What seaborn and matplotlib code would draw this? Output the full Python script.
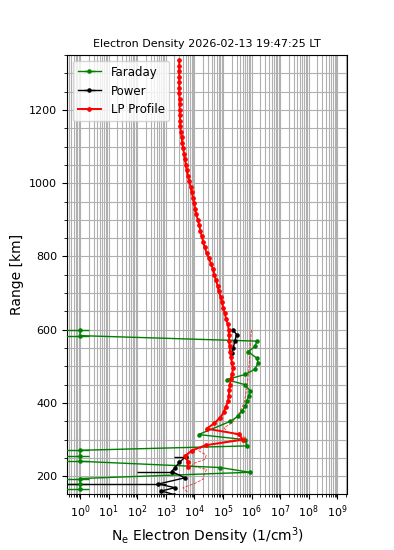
import matplotlib
matplotlib.use("Agg")
import matplotlib.pyplot as plt
import numpy as np
import pandas as pd
import seaborn as sns
from matplotlib.ticker import LogLocator, MultipleLocator

# LP profile (red), km and 1/cm^3
lp_range = [1335, 1320, 1305, 1290, 1275, 1260, 1245, 1230, 1215, 1200,
            1185, 1170, 1155, 1140, 1125, 1110, 1095, 1080, 1065, 1050,
            1035, 1020, 1005, 990, 975, 960, 945, 930, 915, 900,
            885, 870, 855, 840, 825, 810, 795, 780, 765, 750,
            735, 720, 705, 690, 675, 660, 645, 630, 615, 600,
            585, 570, 555, 540, 525, 510, 495, 480, 465, 450,
            435, 420, 405, 390, 375, 360, 345, 330, 315, 300,
            285, 270, 255, 240, 225]
lp_dens = [2.95e3, 2.95e3, 2.95e3, 2.95e3, 2.95e3, 2.95e3, 2.95e3, 3.02e3, 3.02e3, 3.09e3,
           3.09e3, 3.16e3, 3.24e3, 3.39e3, 3.55e3, 3.80e3, 4.07e3, 4.37e3, 4.68e3, 5.01e3,
           5.37e3, 5.89e3, 6.61e3, 7.41e3, 8.13e3, 8.91e3, 9.77e3, 1.07e4, 1.17e4, 1.32e4,
           1.48e4, 1.62e4, 1.82e4, 2.04e4, 2.29e4, 2.69e4, 3.24e4, 3.80e4, 4.47e4, 5.01e4,
           5.75e4, 6.46e4, 7.08e4, 8.32e4, 9.12e4, 1.02e5, 1.15e5, 1.29e5, 1.48e5, 1.58e5,
           1.62e5, 1.66e5, 1.70e5, 1.78e5, 1.91e5, 2.04e5, 2.24e5, 2.09e5, 1.86e5, 1.74e5,
           1.66e5, 1.58e5, 1.51e5, 1.26e5, 1.07e5, 7.94e4, 5.01e4, 2.69e4, 3.55e5, 5.01e5,
           2.51e4, 7.94e3, 4.68e3, 6.03e3, 6.03e3]

# thin dashed red trace
raw_range = [600, 560, 520, 480, 440, 400, 370, 345, 333, 322, 310, 305, 290, 283,
             270, 258, 246, 236, 228, 219, 205, 192, 180, 169, 155]
raw_dens = [1.0e6, 9.0e5, 8.5e5, 7.8e5, 6.8e5, 5.5e5, 3.5e5, 2.0e5, 1.1e5, 1.35e5, 4.5e5, 6.3e5, 6.0e4, 2.0e4,
            1.4e4, 2.6e4, 2.3e4, 1.0e4, 8.0e3, 2.7e4, 2.2e4, 2.0e4, 1.0e4, 4.0e3, 6.0e3]

# Faraday (green)
far_range = [600, 584, 569, 555, 540, 523, 510, 492, 478, 464, 450, 434, 420, 405, 391,
             378, 364, 350, 314, 300, 283, 271, 255, 241, 224, 211, 194, 180, 165]
far_dens = [1, 1, 1.5e6, 1.35e6, 7.6e5, 1.5e6, 1.7e6, 1.3e6, 6.0e5, 1.35e5, 6.0e5, 8.7e5, 8.0e5, 6.8e5, 6.0e5,
            4.5e5, 3.4e5, 1.8e5, 1.4e4, 6.0e5, 6.8e5, 1, 1, 1, 8.0e4, 8.7e5, 1, 1, 1]
far_err = [1, 1, 0, 0, 0, 0, 0, 0, 0, 0, 0, 0, 0, 0, 0,
           0, 0, 0, 0, 0, 0, 1, 1, 1, 0, 0, 1, 1, 1]

# Power (black)
pow_range = [600, 587, 569, 551, 537, 400, 254, 238, 224, 213, 196, 179, 169, 160, 150]
pow_dens = [2.2e5, 3.0e5, 2.6e5, 2.3e5, 2.0e5, np.nan, 5.0e3, 3.0e3, 2.1e3, 1.6e3, 4.7e3, 5.5e2, 2.1e3, 7.0e2, 2.0e3]
pow_err_lo = [0, 0, 0, 0, 0, 0, 3.0e3, 0, 0, 1.5e3, 0, 5.5e2, 0, 0, 0]
pow_err_hi = [0, 0, 0, 0, 0, 0, 0.5e3, 0, 0, 0.2e3, 0, 5.0e2, 0, 0, 0]

lp = pd.DataFrame({"range": lp_range, "dens": lp_dens})
raw = pd.DataFrame({"range": raw_range, "dens": raw_dens})

fig = plt.figure(figsize=(3.94, 5.5), dpi=100)
ax = fig.add_axes([0.170, 0.102, 0.711, 0.798])
ax.set_xscale('log')

ax.errorbar(far_dens, far_range, xerr=far_err, fmt='.-', color='g', lw=1, ms=4.5,
            label='Faraday', zorder=3)
ax.errorbar(pow_dens, pow_range, xerr=[pow_err_lo, pow_err_hi], fmt='.-', color='k', lw=1, ms=4.5,
            label='Power', zorder=3)
sns.lineplot(data=raw, x='dens', y='range', sort=False, estimator=None, ax=ax,
             color='r', lw=0.6, linestyle='--', alpha=0.8, zorder=2)
sns.lineplot(data=lp, x='dens', y='range', sort=False, estimator=None, ax=ax,
             color='r', lw=1.4, marker='o', ms=2.6, mec='r', label='LP Profile', zorder=4)

ax.set_xlim(0.35, 2.2e9)
ax.set_ylim(152, 1350)
ax.xaxis.set_major_locator(LogLocator(base=10, numticks=15))
ax.xaxis.set_minor_locator(LogLocator(base=10, subs=np.arange(2, 10), numticks=15))
ax.yaxis.set_major_locator(MultipleLocator(200))
ax.yaxis.set_minor_locator(MultipleLocator(50))
ax.grid(True, which='both', color='#b0b0b0', lw=0.8)
ax.set_axisbelow(True)
ax.tick_params(labelsize=8)

ax.set_title('Electron Density 2026-02-13 19:47:25 LT', fontsize=8)
ax.set_xlabel(r'N$_\mathrm{e}$ Electron Density (1/cm$^3$)', fontsize=10)
ax.set_ylabel('Range [km]', fontsize=10)

h, l = ax.get_legend_handles_labels()
order = [l.index('Faraday'), l.index('Power'), l.index('LP Profile')]
ax.legend([h[i] for i in order], [l[i] for i in order], loc='upper left', fontsize=8.5)

fig.savefig('out.png', dpi=100)
